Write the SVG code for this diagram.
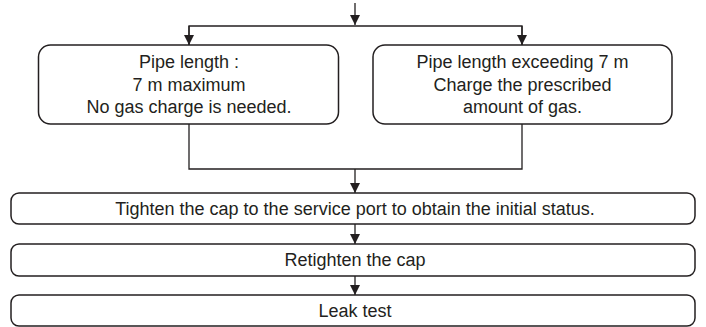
<svg xmlns="http://www.w3.org/2000/svg" width="706" height="327" viewBox="0 0 706 327">
<defs>
<marker id="ah" markerWidth="10" markerHeight="10" refX="10" refY="5" orient="auto" markerUnits="userSpaceOnUse">
<path d="M0,0 L10,5 L0,10 Z" fill="#231f20"/>
</marker>
<style>
.box{fill:#fff;stroke:#231f20;stroke-width:1.5}
.ln{fill:none;stroke:#231f20;stroke-width:1.3}
.t{font-family:"Liberation Sans",Arial,sans-serif;font-size:18px;fill:#231f20;text-anchor:middle}
</style>
</defs>
<rect width="706" height="327" fill="#fff"/>
<g id="connectors">
<line class="ln" x1="355" y1="3" x2="355" y2="25" marker-end="url(#ah)"/>
<polyline class="ln" points="189,45 189,26 522,26 522,45"/>
<line class="ln" x1="189" y1="26" x2="189" y2="45" marker-end="url(#ah)"/>
<line class="ln" x1="522" y1="26" x2="522" y2="45" marker-end="url(#ah)"/>
<polyline class="ln" points="189,124 189,169 522,169 522,124"/>
<line class="ln" x1="355" y1="169" x2="355" y2="193" marker-end="url(#ah)"/>
<line class="ln" x1="355" y1="224" x2="355" y2="244" marker-end="url(#ah)"/>
<line class="ln" x1="355" y1="276" x2="355" y2="295" marker-end="url(#ah)"/>
</g>
<g id="n_short">
<rect class="box" x="38.5" y="45" width="300" height="79" rx="12"/>
<text class="t" x="189" y="68">Pipe length :</text>
<text class="t" x="189" y="90.5">7 m maximum</text>
<text class="t" x="189" y="113">No gas charge is needed.</text>
</g>
<g id="n_long">
<rect class="box" x="373" y="45" width="299" height="79" rx="12"/>
<text class="t" x="522.5" y="68">Pipe length exceeding 7 m</text>
<text class="t" x="522.5" y="90.5">Charge the prescribed</text>
<text class="t" x="522.5" y="113">amount of gas.</text>
</g>
<g id="n_tighten">
<rect class="box" x="11" y="193" width="684" height="31" rx="8"/>
<text class="t" x="355" y="215">Tighten the cap to the service port to obtain the initial status.</text>
</g>
<g id="n_retighten">
<rect class="box" x="11" y="244" width="684" height="32" rx="8"/>
<text class="t" x="355" y="266">Retighten the cap</text>
</g>
<g id="n_leak">
<rect class="box" x="11" y="295" width="684" height="31" rx="8"/>
<text class="t" x="355" y="317">Leak test</text>
</g>
</svg>
